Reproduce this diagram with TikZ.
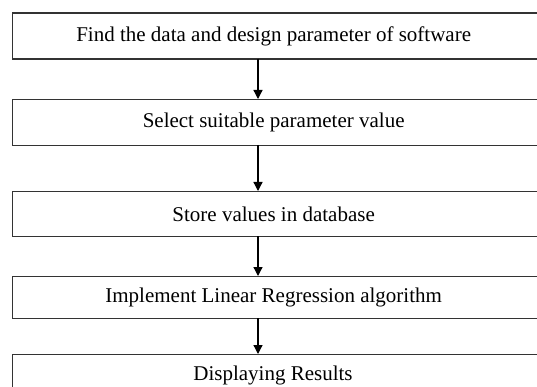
\documentclass[tikz,border=0pt]{standalone}
\usepackage{fontspec}
\setmainfont{Liberation Serif}
\usetikzlibrary{arrows.meta}
\begin{document}
\begin{tikzpicture}[x=1pt,y=1pt,
  stepbox/.style={draw=black!80, line width=1.3pt, minimum height=46pt, minimum width=530pt, inner sep=0pt, anchor=north west, font=\fontsize{21}{25}\selectfont},
  flow/.style={line width=1.3pt, -{Triangle[length=9pt,width=9pt]}}]
\useasboundingbox (0,0) rectangle (537,-387);
\clip (0,0) rectangle (537,-387);
\node[stepbox] (b1) at (12,-12.5) {Find the data and design parameter of software\hspace*{8pt}};
\node[stepbox] (b2) at (12,-99) {Select suitable parameter value\hspace*{8pt}};
\node[stepbox, minimum height=45pt] (b3) at (12,-191) {Store values in database\hspace*{8pt}};
\node[stepbox, minimum height=42pt] (b4) at (12,-276) {Implement Linear Regression algorithm\hspace*{8pt}};
\node[stepbox, minimum height=46pt] (b5) at (12,-354) {};
\node[font=\fontsize{21}{25}\selectfont, anchor=base] (t5) at (273,-380) {Displaying Results};
\coordinate (a1s) at (258,-58.7); \coordinate (a1e) at (258,-99);
\coordinate (a2s) at (258,-145); \coordinate (a2e) at (258,-191);
\coordinate (a3s) at (258,-236); \coordinate (a3e) at (258,-276);
\coordinate (a4s) at (258,-318); \coordinate (a4e) at (258,-354);
\draw[flow] (a1s) -- (a1e);
\draw[flow] (a2s) -- (a2e);
\draw[flow] (a3s) -- (a3e);
\draw[flow] (a4s) -- (a4e);
\end{tikzpicture}
\end{document}
